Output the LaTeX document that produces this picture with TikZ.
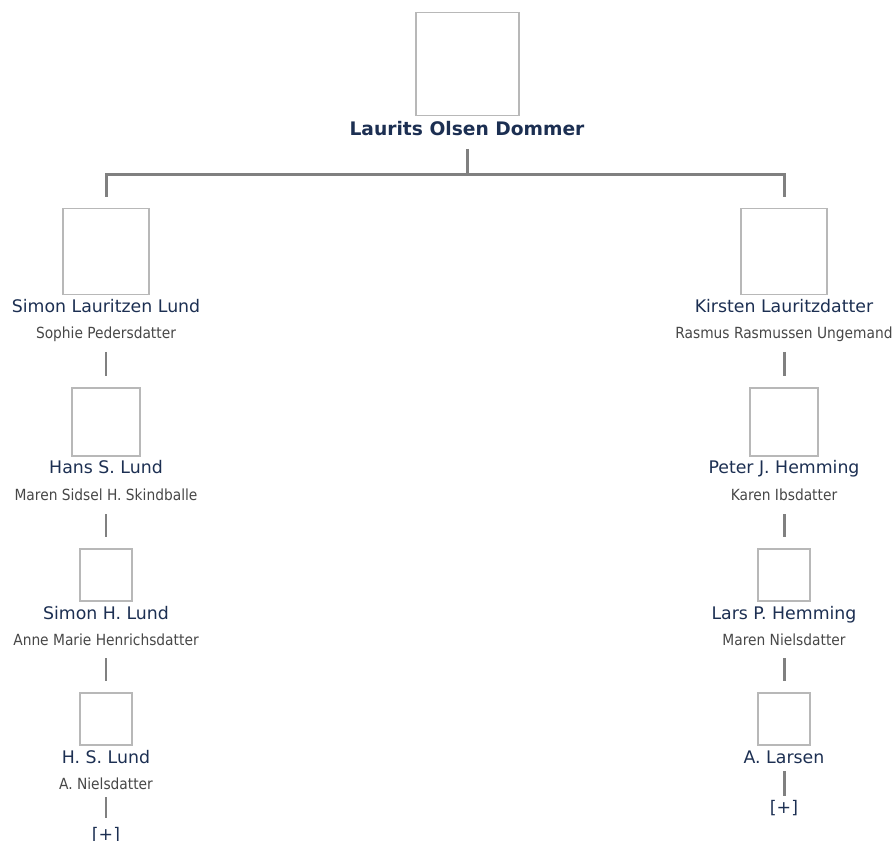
\documentclass[tikz,border=0pt]{standalone}
\usepackage{fontspec}
\setmainfont{DejaVu Sans}
\newfontfamily\spousefont{DejaVu Sans Condensed}
\usepackage{xcolor}
\usetikzlibrary{calc}
\definecolor{navy}{HTML}{1C2F52}
\definecolor{framegray}{HTML}{B8B8B8}
\definecolor{linkgray}{HTML}{808080}
\definecolor{spousegray}{HTML}{474747}
\tikzset{
	photo/.style={draw=framegray, line width=1.1pt, fill=white, inner sep=0pt, minimum size=#1*0.75pt},
	rootname/.style={anchor=base, inner sep=0pt, text=navy, font=\fontsize{14pt}{16pt}\selectfont\bfseries},
	person/.style={anchor=base, inner sep=0pt, text=navy, font=\fontsize{13pt}{15pt}\selectfont},
	spouse/.style={anchor=base, inner sep=0pt, text=spousegray, font=\spousefont\fontsize{11.5pt}{13pt}\selectfont},
	more/.style={anchor=base, inner sep=0pt, text=navy, font=\fontsize{13pt}{15pt}\selectfont},
	link/.style={draw=linkgray, line width=2.25pt},
	thinlink/.style={draw=linkgray, line width=1.5pt}
}
\begin{document}
\begin{tikzpicture}[x=0.75pt, y=-0.75pt]
	\useasboundingbox (0,0) rectangle (896,841);
	% root
	\node[photo=103] (root) at (467.5,64) {};
	\node[rootname] (rootn) at (467,136) {Laurits Olsen Dommer};
	% left line
	\node[photo=86] (b1l) at (106,251.5) {};
	\node[person] (n1l) at (106,313) {Simon Lauritzen Lund};
	\node[spouse] (s1l) at (106,339) {Sophie Pedersdatter};
	\node[photo=68] (b2l) at (106,422) {};
	\node[person] (n2l) at (106,474) {Hans S. Lund};
	\node[spouse] (s2l) at (106,500) {Maren Sidsel H. Skindballe};
	\node[photo=52] (b3l) at (106,575) {};
	\node[person] (n3l) at (106,619) {Simon H. Lund};
	\node[spouse] (s3l) at (106,645) {Anne Marie Henrichsdatter};
	\node[photo=52] (b4l) at (106,719) {};
	\node[person] (n4l) at (106,763) {H. S. Lund};
	\node[spouse] (s4l) at (106,789) {A. Nielsdatter};
	\node[more] (ml) at (106,840) {[+]};
	% right line
	\node[photo=86] (b1r) at (784,251.5) {};
	\node[person] (n1r) at (784,313) {Kirsten Lauritzdatter};
	\node[spouse] (s1r) at (784,339) {Rasmus Rasmussen Ungemand};
	\node[photo=68] (b2r) at (784,422) {};
	\node[person] (n2r) at (784,474) {Peter J. Hemming};
	\node[spouse] (s2r) at (784,500) {Karen Ibsdatter};
	\node[photo=52] (b3r) at (784,575) {};
	\node[person] (n3r) at (784,619) {Lars P. Hemming};
	\node[spouse] (s3r) at (784,645) {Maren Nielsdatter};
	\node[photo=52] (b4r) at (784,719) {};
	\node[person] (n4r) at (784,763) {A. Larsen};
	\node[more] (mr) at (784,813) {[+]};
	% fork
	\draw[link] ($(rootn.base)+(0,13)$) -- ($(rootn.base)+(0,39)$);
	\draw[link] ($(b1l.north)+(0,-11)$) |- ($(rootn.base)+(0,39)$) -| ($(b1r.north)+(0,-11)$);
	% connectors
	\draw[thinlink] ($(s1l.base)+(0,13)$) -- ($(b2l.north)+(0,-11)$);
	\draw[thinlink] ($(s2l.base)+(0,14)$) -- ($(b3l.north)+(0,-11)$);
	\draw[thinlink] ($(s3l.base)+(0,13)$) -- ($(b4l.north)+(0,-11)$);
	\draw[thinlink] ($(s4l.base)+(0,8)$) -- ($(ml.north)+(0,-9)$);
	\draw[link] ($(s1r.base)+(0,13)$) -- ($(b2r.north)+(0,-11)$);
	\draw[link] ($(s2r.base)+(0,14)$) -- ($(b3r.north)+(0,-11)$);
	\draw[link] ($(s3r.base)+(0,13)$) -- ($(b4r.north)+(0,-11)$);
	\draw[link] ($(n4r.base)+(0,8)$) -- ($(mr.north)+(0,-4)$);
\end{tikzpicture}
\end{document}
